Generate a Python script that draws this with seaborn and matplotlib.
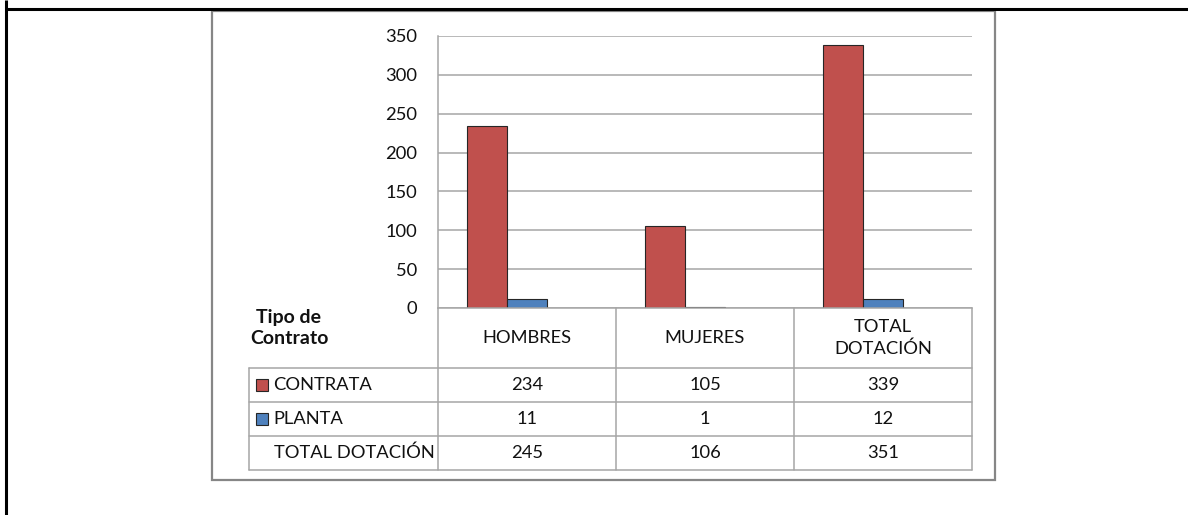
import matplotlib
matplotlib.use('agg')
import matplotlib.pyplot as plt
from matplotlib.patches import Rectangle
from matplotlib.transforms import blended_transform_factory
import pandas as pd
import seaborn as sns

# datos de dotación por tipo de contrato
categorias = ['HOMBRES', 'MUJERES', 'TOTAL\nDOTACIÓN']
series = ['CONTRATA', 'PLANTA', 'TOTAL DOTACIÓN']
contrata = [234, 105, 339]
planta = [11, 1, 12]
total_dotacion = [245, 106, 351]
colores = ['#C0504D', '#4F81BD', '#FFFFFF']
marcas_y = [0, 50, 100, 150, 200, 250, 300, 350]

W, H = 1188, 515
GRIS = '#a6a6a6'
TXT = 13.2

df = pd.DataFrame({
    'categoria': categorias * 3,
    'serie': [s for s in series for _ in categorias],
    'valor': contrata + planta + total_dotacion,
})

sns.set_theme(style='white')
plt.rcParams['font.family'] = ['Lato', 'DejaVu Sans']
plt.rcParams['text.color'] = '#111111'


def caja(x0, y0, x1, y1):
    # rectangulo en pixeles -> fraccion de figura
    return [x0 / W, 1 - y1 / H, (x1 - x0) / W, (y1 - y0) / H]


fig = plt.figure(figsize=(W / 100, H / 100), dpi=100)

fondo = fig.add_axes([0, 0, 1, 1])
fondo.set_xlim(0, W)
fondo.set_ylim(H, 0)
fondo.axis('off')

# marco de la pagina y del grafico
fondo.plot([5, W], [8.5, 8.5], color='black', lw=2.2, solid_capstyle='butt')
fondo.plot([6, 6], [0, H], color='black', lw=2.2, solid_capstyle='butt')
fondo.add_patch(Rectangle((212, 11), 783, 469, fill=False, ec='#868686', lw=1.6))

ax = fig.add_axes(caja(438, 36, 972, 308))
sns.barplot(data=df, x='categoria', y='valor', hue='serie', hue_order=series,
            palette=colores, width=0.674, errorbar=None, legend=False,
            edgecolor='#262626', linewidth=0.8, saturation=1, ax=ax)
for barra in ax.containers[2]:
    barra.set_visible(False)

ax.set_xlim(-0.5, 2.5)
ax.set_ylim(0, 350)
ax.set_yticks(marcas_y)
ax.set_xticks([])
ax.set_xlabel('')
ax.set_ylabel('')
ax.yaxis.grid(True, color=GRIS, lw=1.1)
ax.set_axisbelow(True)
ax.tick_params(axis='y', length=0, pad=15, labelsize=TXT, labelcolor='#111111')
for lado in ['top', 'right']:
    ax.spines[lado].set_visible(False)
for lado in ['left', 'bottom']:
    ax.spines[lado].set_color(GRIS)
    ax.spines[lado].set_linewidth(1.1)

# tabla de datos bajo el grafico
tr = blended_transform_factory(ax.transData, fondo.transData)
filas_y = [308, 368, 402, 436, 470]
for y in filas_y[1:]:
    fondo.plot([249, 972], [y, y], color=GRIS, lw=1.1)
fondo.plot([249, 249], [368, 470], color=GRIS, lw=1.1)
for i in range(len(categorias) + 1):
    ax.plot([i - 0.5, i - 0.5], [308, 470], color=GRIS, lw=1.1, transform=tr, clip_on=False)

for i, cat in enumerate(categorias):
    ax.text(i, 338, cat, transform=tr, ha='center', va='center', fontsize=TXT, linespacing=1.4)

valores_tabla = [contrata, planta, total_dotacion]
for fila, (nombre, vals) in enumerate(zip(series, valores_tabla)):
    yc = (filas_y[fila + 1] + filas_y[fila + 2]) / 2
    for i, v in enumerate(vals):
        ax.text(i, yc, str(v), transform=tr, ha='center', va='center', fontsize=TXT)
    if fila < 2:
        fondo.add_patch(Rectangle((256, yc - 6), 12, 12, fc=colores[fila], ec='#262626', lw=0.8))
        fondo.text(273, yc, nombre, ha='left', va='center', fontsize=TXT)
    else:
        fondo.text(274, yc, nombre, ha='left', va='center', fontsize=TXT)

fondo.text(289, 328, 'Tipo de\nContrato', ha='center', va='center', fontsize=14,
           fontweight='bold', linespacing=1.35)

fig.savefig('out.png', dpi=100)
